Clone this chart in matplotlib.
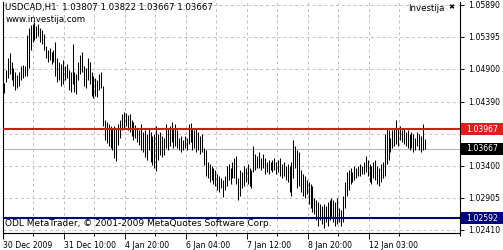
import numpy as np
import matplotlib.pyplot as plt
from matplotlib.patches import Rectangle
from matplotlib.transforms import blended_transform_factory

# hourly USDCAD bars (high / low)
highs = [1.0468, 1.0488, 1.0507, 1.0515, 1.0501, 1.0492, 1.0485, 1.0481, 1.0485, 1.0495,
         1.0496, 1.0495, 1.0543, 1.0553, 1.0558, 1.0560, 1.0563, 1.0556, 1.0560, 1.0553,
         1.0550, 1.0544, 1.0526, 1.0519, 1.0522, 1.0516, 1.0519, 1.0532, 1.0507, 1.0501,
         1.0498, 1.0504, 1.0495, 1.0498, 1.0488, 1.0485, 1.0529, 1.0485, 1.0482, 1.0501,
         1.0512, 1.0516, 1.0495, 1.0492, 1.0507, 1.0501, 1.0485, 1.0479, 1.0476, 1.0473,
         1.0482, 1.0485, 1.0464, 1.0411, 1.0408, 1.0405, 1.0402, 1.0399, 1.0402, 1.0399,
         1.0405, 1.0411, 1.0420, 1.0423, 1.0422, 1.0419, 1.0420, 1.0411, 1.0408, 1.0403,
         1.0399, 1.0396, 1.0405, 1.0393, 1.0396, 1.0389, 1.0399, 1.0393, 1.0386, 1.0389,
         1.0402, 1.0389, 1.0393, 1.0386, 1.0383, 1.0405, 1.0399, 1.0402, 1.0408, 1.0399,
         1.0405, 1.0396, 1.0383, 1.0386, 1.0380, 1.0386, 1.0383, 1.0405, 1.0406, 1.0399,
         1.0396, 1.0399, 1.0393, 1.0386, 1.0389, 1.0368, 1.0365, 1.0346, 1.0343, 1.0340,
         1.0337, 1.0334, 1.0328, 1.0324, 1.0321, 1.0318, 1.0324, 1.0340, 1.0343, 1.0337,
         1.0346, 1.0352, 1.0355, 1.0321, 1.0334, 1.0331, 1.0340, 1.0337, 1.0343, 1.0337,
         1.0334, 1.0371, 1.0358, 1.0355, 1.0362, 1.0352, 1.0358, 1.0352, 1.0346, 1.0349,
         1.0346, 1.0349, 1.0352, 1.0346, 1.0349, 1.0352, 1.0343, 1.0346, 1.0340, 1.0343,
         1.0340, 1.0346, 1.0380, 1.0371, 1.0365, 1.0362, 1.0334, 1.0328, 1.0324, 1.0318,
         1.0315, 1.0312, 1.0309, 1.0290, 1.0287, 1.0284, 1.0281, 1.0278, 1.0281, 1.0278,
         1.0284, 1.0287, 1.0290, 1.0287, 1.0284, 1.0290, 1.0275, 1.0272, 1.0293, 1.0315,
         1.0331, 1.0334, 1.0337, 1.0331, 1.0340, 1.0337, 1.0340, 1.0343, 1.0340, 1.0346,
         1.0355, 1.0349, 1.0343, 1.0340, 1.0346, 1.0349, 1.0340, 1.0337, 1.0343, 1.0346,
         1.0389, 1.0399, 1.0396, 1.0383, 1.0396, 1.0399, 1.0411, 1.0399, 1.0402, 1.0396,
         1.0399, 1.0393, 1.0396, 1.0389, 1.0393, 1.0389, 1.0383, 1.0393, 1.0389, 1.0386,
         1.0405, 1.03822]
lows = [1.0453, 1.0470, 1.0476, 1.0482, 1.0473, 1.0464, 1.0458, 1.0461, 1.0464, 1.0473,
        1.0476, 1.0479, 1.0479, 1.0492, 1.0519, 1.0532, 1.0535, 1.0538, 1.0541, 1.0532,
        1.0529, 1.0519, 1.0507, 1.0501, 1.0504, 1.0498, 1.0501, 1.0479, 1.0470, 1.0473,
        1.0464, 1.0467, 1.0473, 1.0476, 1.0458, 1.0454, 1.0467, 1.0454, 1.0451, 1.0473,
        1.0482, 1.0485, 1.0464, 1.0461, 1.0473, 1.0467, 1.0448, 1.0445, 1.0448, 1.0447,
        1.0458, 1.0461, 1.0402, 1.0380, 1.0375, 1.0371, 1.0368, 1.0365, 1.0352, 1.0348,
        1.0372, 1.0383, 1.0396, 1.0399, 1.0402, 1.0396, 1.0393, 1.0386, 1.0380, 1.0383,
        1.0377, 1.0372, 1.0365, 1.0362, 1.0354, 1.0349, 1.0365, 1.0346, 1.0341, 1.0337,
        1.0332, 1.0349, 1.0357, 1.0354, 1.0357, 1.0368, 1.0365, 1.0371, 1.0377, 1.0368,
        1.0371, 1.0368, 1.0365, 1.0362, 1.0365, 1.0368, 1.0365, 1.0374, 1.0377, 1.0365,
        1.0368, 1.0362, 1.0365, 1.0358, 1.0362, 1.0341, 1.0324, 1.0321, 1.0315, 1.0318,
        1.0312, 1.0309, 1.0303, 1.0300, 1.0306, 1.0292, 1.0303, 1.0309, 1.0318, 1.0312,
        1.0321, 1.0321, 1.0312, 1.0287, 1.0293, 1.0306, 1.0309, 1.0315, 1.0312, 1.0309,
        1.0306, 1.0331, 1.0334, 1.0337, 1.0337, 1.0334, 1.0337, 1.0328, 1.0331, 1.0328,
        1.0334, 1.0331, 1.0334, 1.0328, 1.0331, 1.0324, 1.0321, 1.0324, 1.0318, 1.0315,
        1.0300, 1.0293, 1.0321, 1.0337, 1.0306, 1.0309, 1.0300, 1.0293, 1.0290, 1.0297,
        1.0281, 1.0275, 1.0269, 1.0266, 1.0256, 1.0247, 1.0256, 1.0250, 1.0244, 1.0253,
        1.0247, 1.0256, 1.0259, 1.0253, 1.0247, 1.0250, 1.0253, 1.0247, 1.0253, 1.0275,
        1.0293, 1.0303, 1.0312, 1.0315, 1.0318, 1.0321, 1.0324, 1.0324, 1.0328, 1.0328,
        1.0331, 1.0324, 1.0315, 1.0312, 1.0321, 1.0318, 1.0312, 1.0309, 1.0315, 1.0321,
        1.0324, 1.0343, 1.0349, 1.0362, 1.0368, 1.0371, 1.0374, 1.0371, 1.0380, 1.0377,
        1.0374, 1.0371, 1.0368, 1.0365, 1.0368, 1.0362, 1.0365, 1.0371, 1.0365, 1.0362,
        1.0365, 1.03667]

price_ticks = [1.05890, 1.05395, 1.04900, 1.04390, 1.03895, 1.03400, 1.02905, 1.02410]
price_labels = ['1.05890', '1.05395', '1.04900', '1.04390', '', '1.03400', '1.02905', '1.02410']
time_labels = ['30 Dec 2009', '31 Dec 10:00', '4 Jan 20:00', '6 Jan 04:00',
               '7 Jan 12:00', '8 Jan 20:00', '12 Jan 03:00']

header = 'USDCAD,H1  1.03807 1.03822 1.03667 1.03667'
resistance = 1.03967
bid = 1.03667
support = 1.02592

plt.rcParams['font.family'] = ['DejaVu Sans']
fs = 5.6
fs_text = 6.2

fig = plt.figure(figsize=(5.03, 2.5), dpi=100)
ax = fig.add_axes([3 / 503, 17 / 250, 457 / 503, 231 / 250])

x = np.arange(len(highs))
ax.vlines(x, lows, highs, color='black', lw=0.75, zorder=3)

ax.set_xlim(-0.5, 228)
ax.set_ylim(1.02363, 1.05936)

# grid
grid_kw = dict(color='#c0c0c0', ls=(0, (3, 3)), lw=0.7)
ax.set_yticks(price_ticks)
ax.set_yticklabels(price_labels)
ax.set_xticks(np.arange(len(time_labels)) * 32 - 0.5)
ax.set_xticklabels(time_labels, ha='left')
ax.set_xticks(np.arange(8) * 32 + 15.5, minor=True)
ax.grid(True, which='both', **grid_kw)
ax.set_axisbelow(True)

ax.yaxis.tick_right()
ax.tick_params(axis='y', which='both', length=3, width=0.7, pad=2.5, labelsize=fs)
ax.tick_params(axis='x', which='major', length=4, width=0.7, pad=1.5, labelsize=fs)
ax.tick_params(axis='x', which='minor', length=2, width=0.7)
for sp in ['left', 'bottom', 'right']:
    ax.spines[sp].set_linewidth(0.8)
ax.spines['top'].set_visible(False)

# horizontal levels
ax.axhline(bid, color='#b4b4b4', lw=0.75, zorder=2)
ax.axhline(resistance, color='#c8201e', lw=1.5, zorder=4)
ax.axhline(support, color='#000080', lw=1.5, zorder=4)

# price boxes on the right scale
tr = blended_transform_factory(ax.transAxes, ax.transData)
box_h = 0.00186
for val, col in [(resistance, '#dd1f1f'), (bid, 'black'), (support, '#000080')]:
    ax.add_patch(Rectangle((1.002, val - box_h / 2), 0.091, box_h, transform=tr,
                           fc=col, ec='none', clip_on=False, zorder=6))
    ax.text(1.048, val, '%.5f' % val, transform=tr, color='white', fontsize=fs,
            ha='center', va='center', clip_on=False, zorder=7)

# texts
ax.text(0.005, 0.995, header, transform=ax.transAxes, fontsize=fs_text, va='top', ha='left')
ax.text(0.005, 0.945, 'www.investija.com', transform=ax.transAxes, fontsize=fs_text,
        va='top', ha='left')
ax.text(0.965, 0.99, 'Investija', transform=ax.transAxes, fontsize=fs_text, va='top', ha='right')
ax.text(0.981, 0.99, '\u2716', transform=ax.transAxes, fontsize=fs_text - 1, va='top', ha='center')
ax.text(0.005, 0.04, 'ODL MetaTrader, \u00a9 2001-2009 MetaQuotes Software Corp.',
        transform=ax.transAxes, fontsize=6.5, va='center', ha='left')

fig.savefig('out.png', dpi=100)
